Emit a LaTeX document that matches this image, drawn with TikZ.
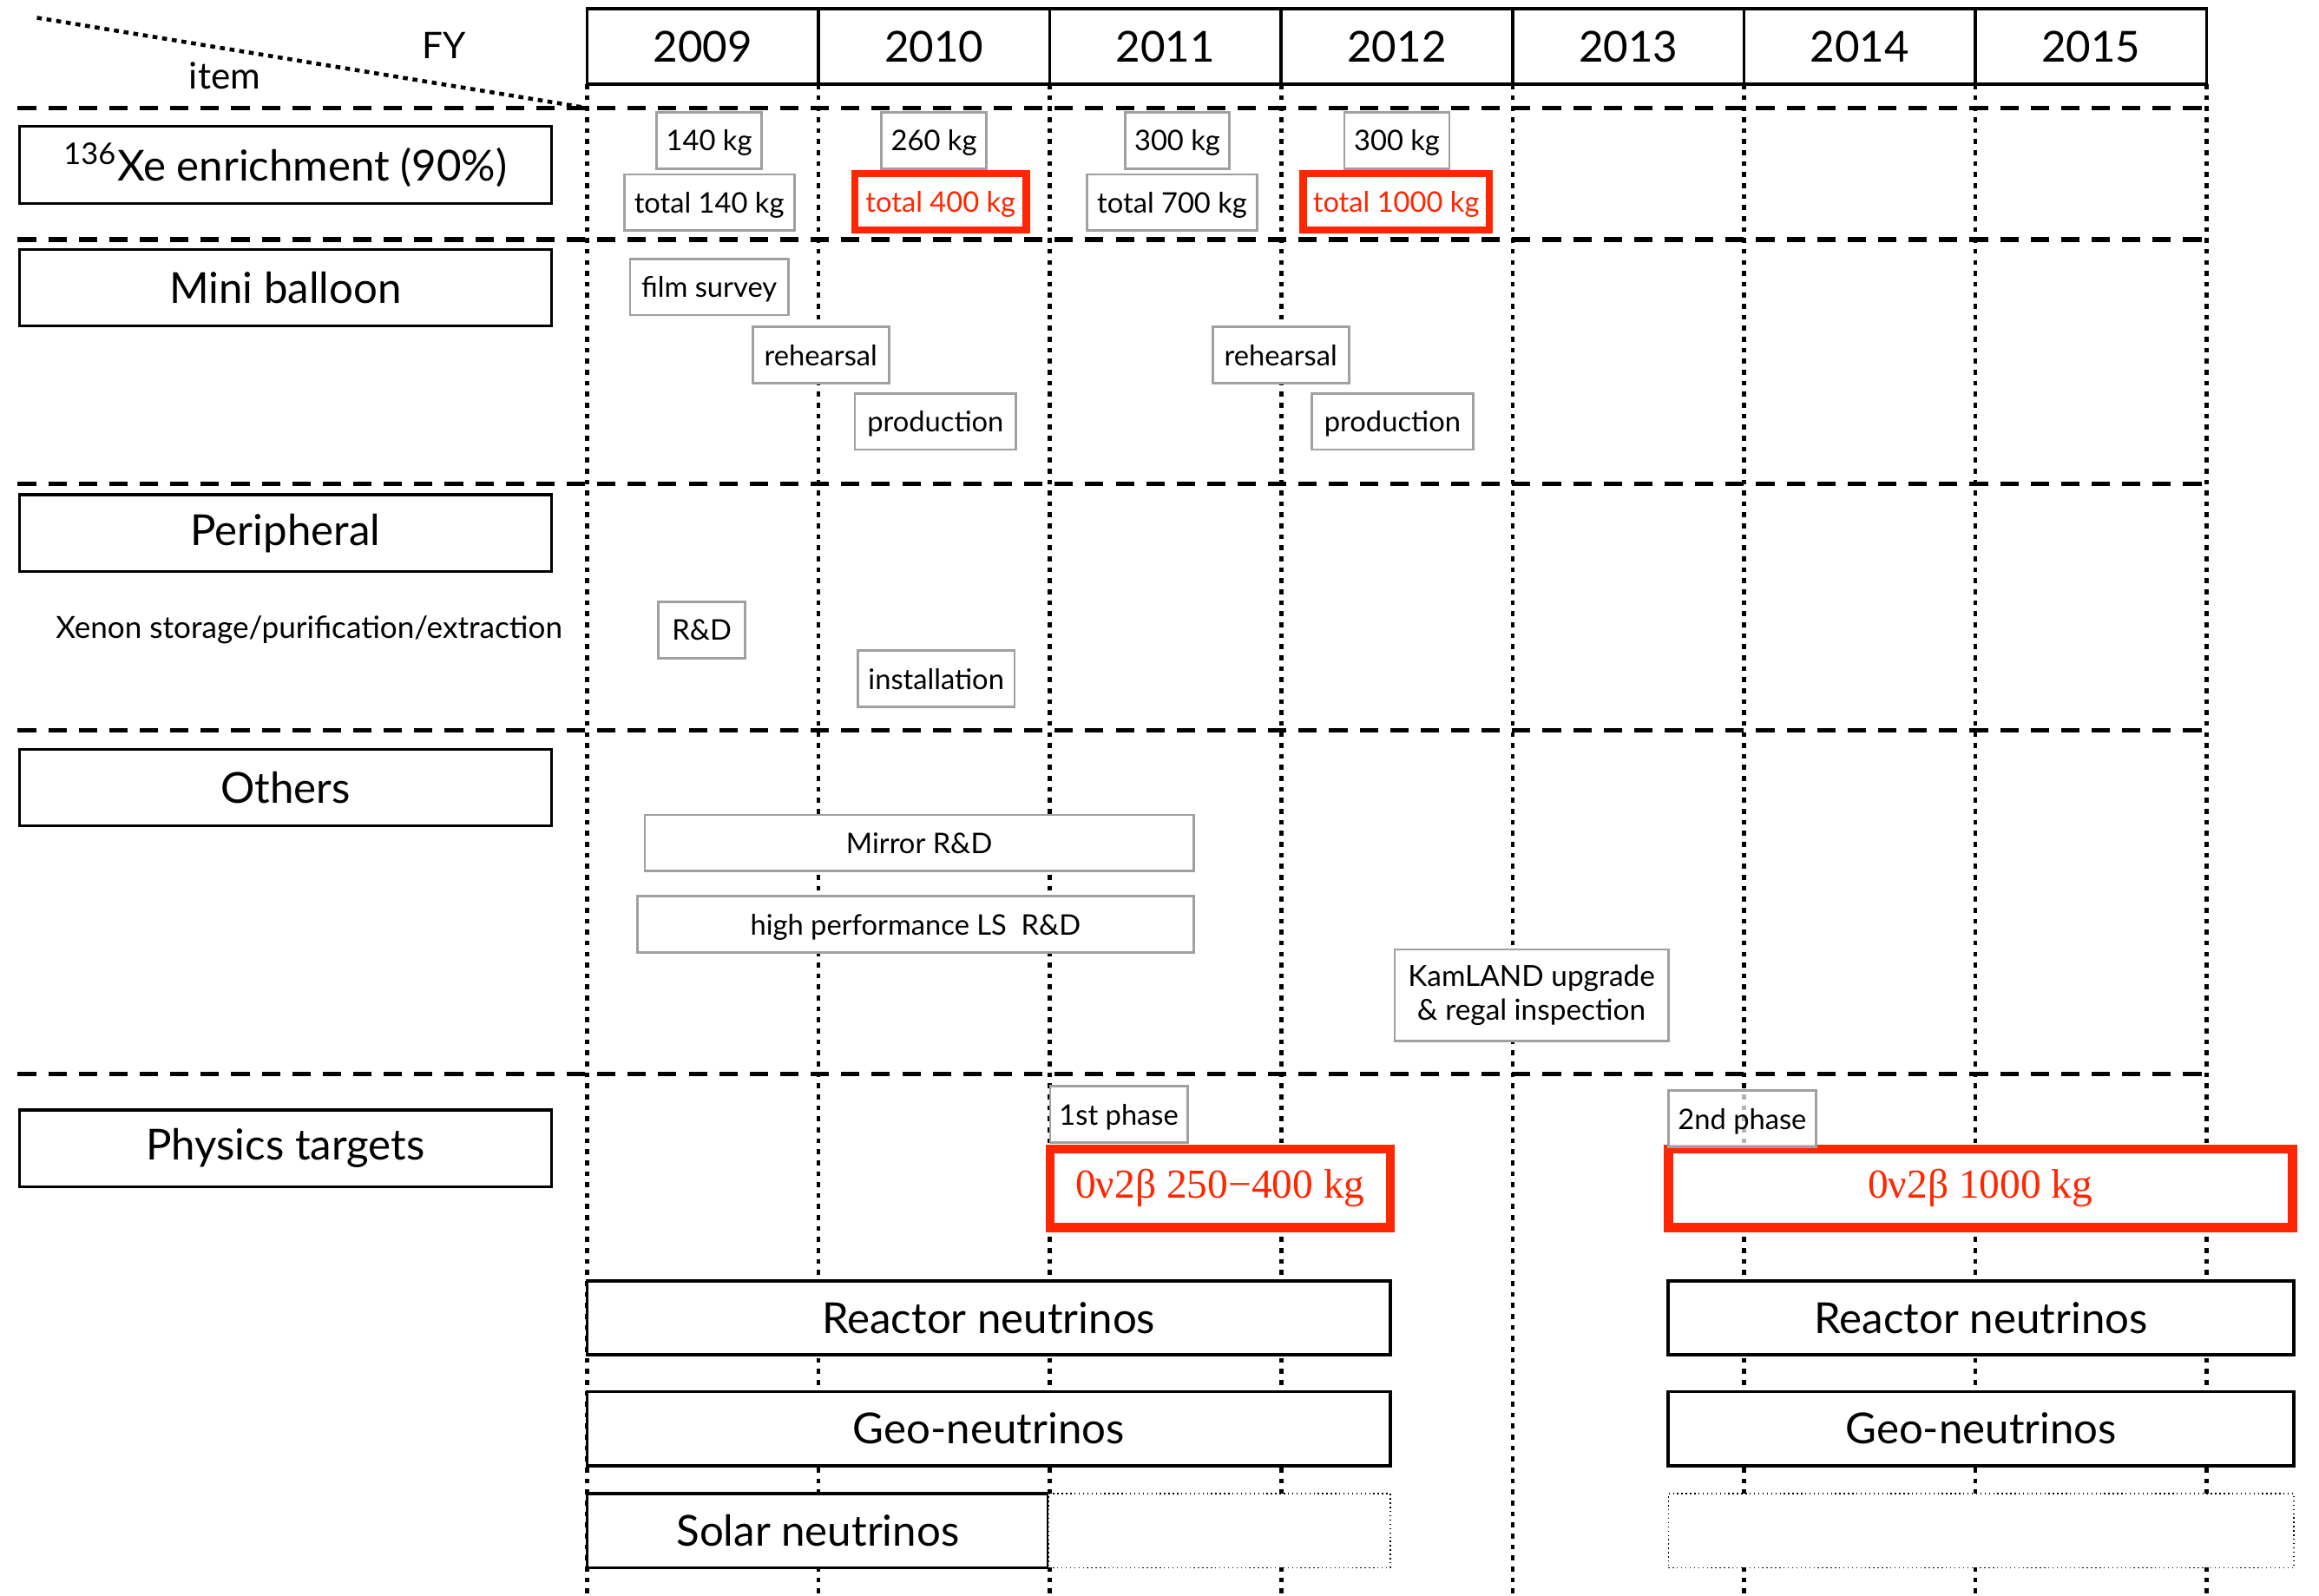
\documentclass[tikz,border=0pt]{standalone}
\usepackage{fontspec}
\setmainfont{Lato}
\newfontfamily\goalfont{Liberation Serif}
\usepackage{tikz}
\definecolor{hired}{RGB}{255,38,0}
\definecolor{boxgray}{RGB}{160,160,160}
\newcommand{\px}{0.01704cm}

\begin{document}
\begin{tikzpicture}[x=0.01704cm,y=-0.01704cm,
  yearcell/.style={draw,line width=1pt,minimum width=156.43*\px,minimum height=51*\px,inner sep=0pt,font=\fontsize{14}{16}\selectfont},
  item/.style={draw,line width=0.9pt,fill=white,minimum width=360*\px,minimum height=52*\px,inner sep=0pt,font=\fontsize{14}{16}\selectfont},
  gbox/.style={draw=boxgray,line width=0.8pt,fill=white,minimum height=38*\px,inner sep=0pt,text depth=0pt,font=\fontsize{9.3}{11}\selectfont},
  rbox/.style={draw=hired,line width=2.4pt,fill=white,text=hired,minimum height=38*\px,inner sep=0pt,text depth=0pt,font=\fontsize{9.3}{11}\selectfont},
  goal/.style={draw=hired,line width=3pt,fill=white,text=hired,minimum height=53*\px,inner sep=0pt,font=\goalfont\fontsize{13.5}{16}\selectfont},
  topic/.style={draw,line width=1pt,fill=white,minimum height=50*\px,inner sep=0pt,font=\fontsize{14}{16}\selectfont},
  openbox/.style={draw,densely dotted,line width=0.4pt,fill=white,minimum height=50*\px,inner sep=0pt},
  rowline/.style={line width=1.5pt,dash pattern=on 6pt off 4pt},
  colline/.style={line width=1.3pt,dash pattern=on 1.6pt off 2pt}]
\useasboundingbox (0,0) rectangle (1568,1079);

% grid
\foreach \i in {0,...,7} {
   \draw[colline] ({397+156.43*\i},57) -- ({397+156.43*\i},1079);
}
\foreach \yr [count=\i from 0] in {2009,...,2015} {
   \node[yearcell] (y\yr) at ({475.2+156.43*\i},31.5) {\yr};
}
\foreach \y in {73,162,327,494,726} {
   \draw[rowline] (12,\y) -- (1492,\y);
}
\draw[line width=1.3pt,dash pattern=on 1.6pt off 1.6pt] (25,12) -- (397,73);
\node[font=\fontsize{12}{14}\selectfont] (fy) at (300,31) {FY};
\node[font=\fontsize{12}{14}\selectfont] (itm) at (152,51) {item};

% items
\node[item] (xe) at (193,111.5) {\textsuperscript{136}Xe enrichment (90\%)};
\node[item] (mini) at (193,194.5) {Mini balloon};
\node[item] (peri) at (193,360.5) {Peripheral};
\node[item] (other) at (193,532.5) {Others};
\node[item] (phys) at (193,776.5) {Physics targets};
\node[font=\fontsize{10}{12}\selectfont] (xenon) at (209,426) {Xenon storage/purification/extraction};

% enrichment
\node[gbox,minimum width=71*\px] (kgA) at (479.5,95) {140 kg};
\node[gbox,minimum width=71*\px] (kgB) at (631.5,95) {260 kg};
\node[gbox,minimum width=70*\px] (kgC) at (796,95) {300 kg};
\node[gbox,minimum width=71*\px] (kgD) at (944.5,95) {300 kg};
\node[gbox,minimum width=115*\px] (totA) at (479.5,137) {total 140 kg};
\node[rbox,minimum width=116*\px] (totB) at (636,136.5) {total 400 kg};
\node[gbox,minimum width=115*\px] (totC) at (792.5,137) {total 700 kg};
\node[rbox,minimum width=126*\px] (totD) at (944,136.5) {total 1000 kg};

% mini balloon
\node[gbox,minimum width=107*\px] (film) at (479.5,194) {film survey};
\node[gbox,minimum width=92*\px] (rehA) at (555,240) {rehearsal};
\node[gbox,minimum width=109*\px] (prodA) at (632.5,285) {production};
\node[gbox,minimum width=92*\px] (rehB) at (866,240) {rehearsal};
\node[gbox,minimum width=109*\px] (prodB) at (941.5,285) {production};

% peripheral
\node[gbox,minimum width=59*\px] (rnd) at (474.5,426) {R\&D};
\node[gbox,minimum width=106*\px] (inst) at (633,459) {installation};

% others
\node[gbox,minimum width=371*\px] (mirror) at (621.5,570) {Mirror R\&D};
\node[gbox,minimum width=376*\px] (ls) at (619,625) {high performance LS\ \ R\&D};
\node[gbox,minimum width=185*\px,minimum height=62*\px,align=center,text depth=,font=\fontsize{9.5}{11.3}\selectfont] (kam) at (1035.5,673) {KamLAND upgrade\\ \& regal inspection};

% physics targets
\node[goal,minimum width=230*\px] (goalA) at (825,803.5) {0ν2β 250−400 kg};
\node[goal,minimum width=422*\px] (goalB) at (1339,803.5) {0ν2β 1000 kg};
\node[gbox,minimum width=93*\px] (phA) at (756.5,753.5) {1st phase};
\node[gbox,minimum width=100*\px,fill opacity=0.7,text opacity=1] (phB) at (1178,756.5) {2nd phase};
\node[topic,minimum width=543*\px] (reacA) at (668.5,891) {Reactor neutrinos};
\node[topic,minimum width=423*\px] (reacB) at (1339.5,891) {Reactor neutrinos};
\node[topic,minimum width=543*\px] (geoA) at (668.5,966) {Geo-neutrinos};
\node[topic,minimum width=423*\px] (geoB) at (1339.5,966) {Geo-neutrinos};
\node[topic,minimum width=312*\px] (solar) at (553,1035) {Solar neutrinos};
\node[openbox,minimum width=231*\px] (solarA) at (824.5,1035) {};
\node[openbox,minimum width=423*\px] (solarB) at (1339.5,1035) {};
\end{tikzpicture}
\end{document}
